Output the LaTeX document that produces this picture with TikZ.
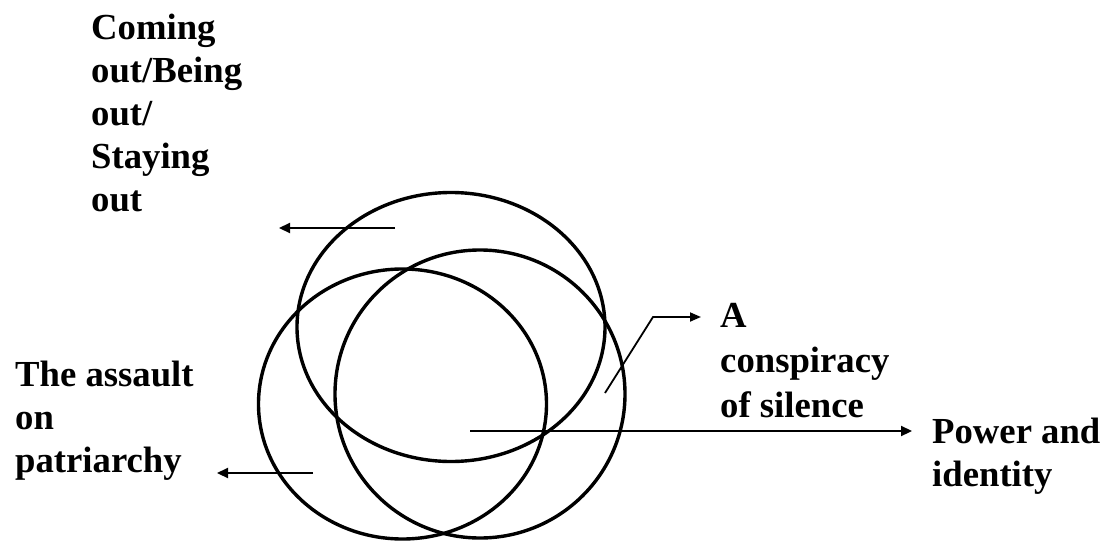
\documentclass[tikz,border=0pt]{standalone}
\usepackage{fontspec}
\setmainfont{Liberation Serif}
\usetikzlibrary{arrows.meta,shapes.geometric}
\begin{document}
\begin{tikzpicture}[x=1pt,y=-1pt,
  ring/.style={draw, ellipse, line width=3.4pt, inner sep=0pt, outer sep=0pt},
  lbl/.style={anchor=base west, inner sep=0pt, font=\bfseries\fontsize{36.7}{43}\selectfont},
  pointer/.style={line width=2.2pt, -{Triangle[length=11pt,width=10pt]}},
  thinpointer/.style={line width=1.8pt, -{Triangle[length=11pt,width=9pt]}}]
\useasboundingbox (0,0) rectangle (1112,541);
% ellipses
\node[ring, minimum width=308, minimum height=269] (top) at (451,327) {};
\node[ring, minimum width=288, minimum height=270] (left) at (402.5,404) {};
\node[ring, minimum width=290, minimum height=288] (right) at (480,394) {};
% labels
\node[lbl] (cm1) at (91,39) {Coming};
\node[lbl] (cm2) at (91,82) {out/Being};
\node[lbl] (cm3) at (91,125) {out/};
\node[lbl] (cm4) at (91,168) {Staying};
\node[lbl] (cm5) at (91,211) {out};
\node[lbl] (as1) at (15,386) {The assault};
\node[lbl] (as2) at (15,429) {on};
\node[lbl] (as3) at (15,472) {patriarchy};
\node[lbl] (cs1) at (720,327) {A};
\node[lbl] (cs2) at (720,372) {conspiracy};
\node[lbl] (cs3) at (720,417) {of silence};
\node[lbl] (pw1) at (932,443) {Power and};
\node[lbl] (pw2) at (932,486) {identity};
% connector points
\coordinate (t1) at (395,228); \coordinate (t2) at (279,228);
\coordinate (l1) at (313,473); \coordinate (l2) at (217,473);
\coordinate (p1) at (470,431); \coordinate (p2) at (912,431);
\coordinate (c1) at (605,393); \coordinate (c2) at (653,317); \coordinate (c3) at (701,317);
% connectors
\draw[pointer] (t1) -- (t2);
\draw[pointer] (l1) -- (l2);
\draw[pointer] (p1) -- (p2);
\draw[thinpointer] (c1) -- (c2) -- (c3);
\end{tikzpicture}
\end{document}
